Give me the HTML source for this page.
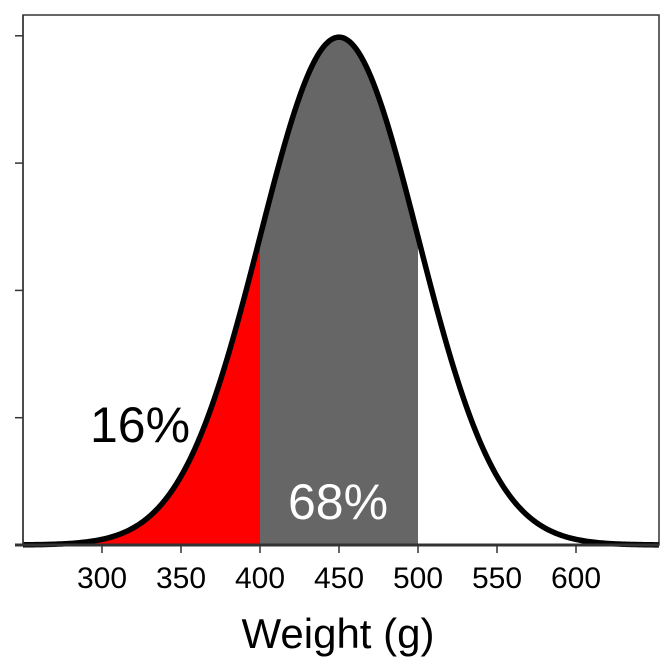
<!DOCTYPE html>
<html><head><meta charset="utf-8"><style>
body{margin:0;background:#fff}
svg{display:block;font-family:"Liberation Sans",sans-serif}
</style></head><body>
<svg id="chart" width="672" height="672">
<rect x="23" y="15" width="636" height="530" fill="none" stroke="#333" stroke-width="1.5"/>
<g id="fills"></g>
<path id="curve" fill="none" stroke="#000" stroke-width="5.5" stroke-linejoin="round"/>
<line x1="15" y1="545" x2="659" y2="545" stroke="#333" stroke-width="3"/>
<line x1="23" y1="15" x2="23" y2="545" stroke="#333" stroke-width="1.5"/>
<g id="xticks"></g>
<g id="yticks"></g>
<text x="140" y="442" font-size="50" text-anchor="middle" fill="#000">16%</text>
<text x="338" y="519" font-size="50" text-anchor="middle" fill="#fff">68%</text>
<text x="338" y="648" font-size="42" text-anchor="middle" fill="#000">Weight (g)</text>
</svg>
<script>
const mean = 450;
const sd = 50;
const xTicks = [300, 350, 400, 450, 500, 550, 600];
const yTicks = [0, 0.002, 0.004, 0.006, 0.008];
const redRange = [300, 400];
const greyRange = [400, 500];
const xDomain = [250, 652.5];
const NS = "http://www.w3.org/2000/svg";
const X = v => 102 + (v - 300) * 1.58;
const Y = d => 545 - d * 63650;
const dens = v => Math.exp(-0.5 * ((v - mean) / sd) ** 2) / (sd * Math.sqrt(2 * Math.PI));
function pathBetween(a, b, closed) {
  let s = "";
  for (let v = a; v <= b + 1e-9; v += (b - a) / 300) {
    s += (s ? "L" : "M") + X(v).toFixed(2) + "," + Y(dens(v)).toFixed(2);
  }
  if (closed) s += "L" + X(b) + "," + Y(0) + "L" + X(a) + "," + Y(0) + "Z";
  return s;
}
const fills = document.getElementById("fills");
const red = document.createElementNS(NS, "path");
red.setAttribute("d", pathBetween(xDomain[0], redRange[1], true));
red.setAttribute("fill", "#ff0000");


fills.appendChild(red);
const grey = document.createElementNS(NS, "path");
grey.setAttribute("d", pathBetween(greyRange[0], greyRange[1], true));
grey.setAttribute("fill", "#666666");


fills.appendChild(grey);
document.getElementById("curve").setAttribute("d", pathBetween(xDomain[0], xDomain[1], false));
const xt = document.getElementById("xticks");
xTicks.forEach(t => {
  const l = document.createElementNS(NS, "line");
  l.setAttribute("x1", X(t)); l.setAttribute("x2", X(t));
  l.setAttribute("y1", 545); l.setAttribute("y2", 553);
  l.setAttribute("stroke", "#333"); l.setAttribute("stroke-width", "1.5");
  
  
  xt.appendChild(l);
  const tx = document.createElementNS(NS, "text");
  tx.setAttribute("x", X(t)); tx.setAttribute("y", 588);
  tx.setAttribute("font-size", "30"); tx.setAttribute("text-anchor", "middle");
  tx.textContent = t;
  
  
  xt.appendChild(tx);
});
const yt = document.getElementById("yticks");
yTicks.forEach(t => {
  const l = document.createElementNS(NS, "line");
  l.setAttribute("x1", 15); l.setAttribute("x2", 23);
  l.setAttribute("y1", Y(t)); l.setAttribute("y2", Y(t));
  l.setAttribute("stroke", "#333"); l.setAttribute("stroke-width", "1.5");
  
  
  yt.appendChild(l);
});
</script>
</body></html>
